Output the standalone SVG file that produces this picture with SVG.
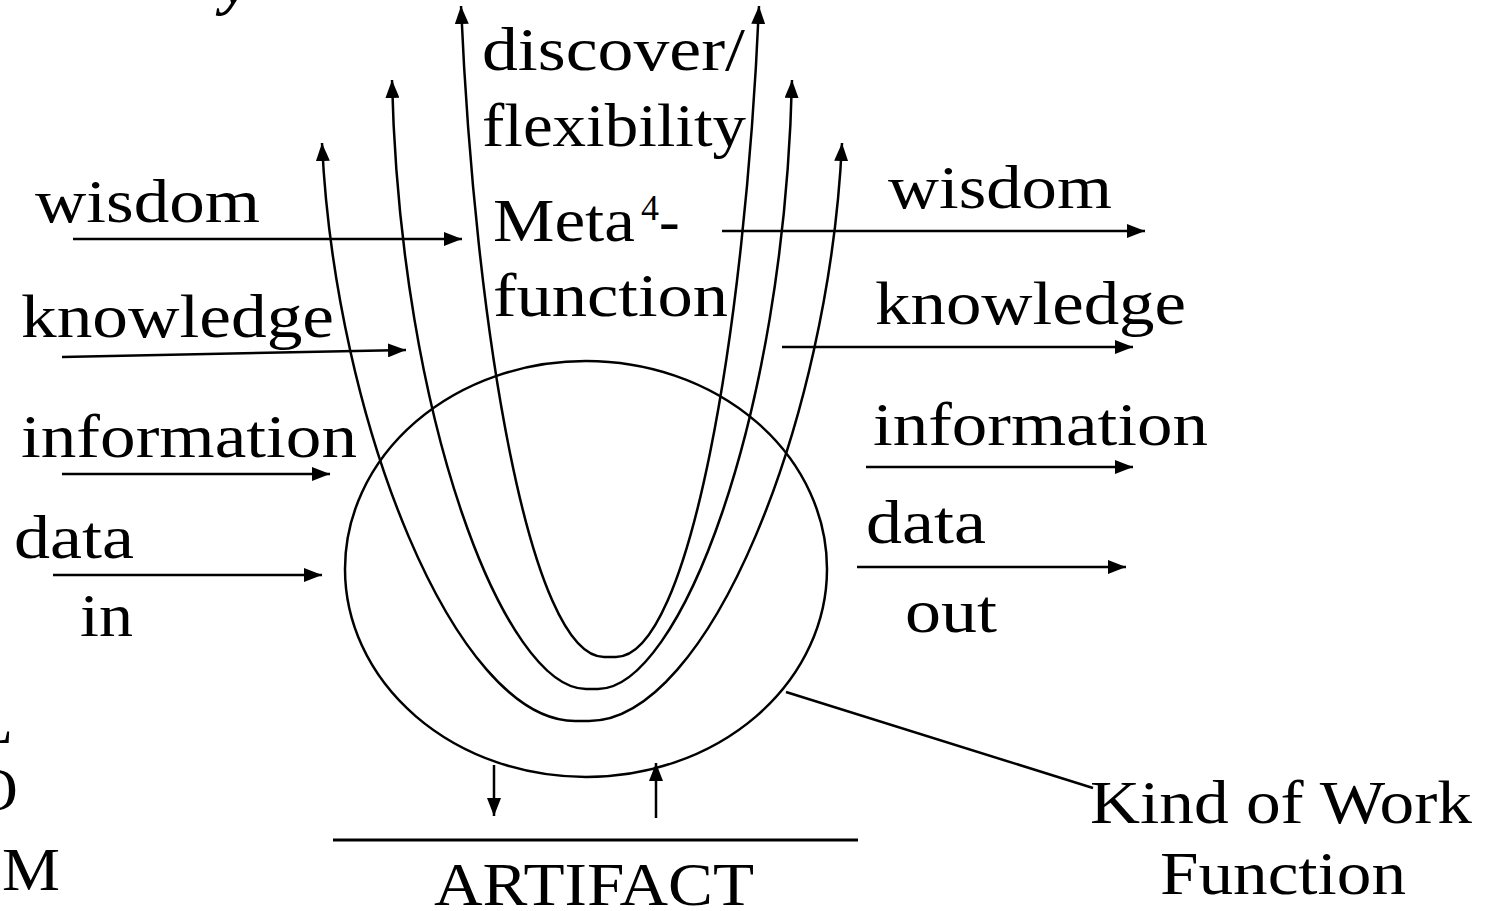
<svg xmlns="http://www.w3.org/2000/svg" width="1491" height="911" viewBox="0 0 1491 911">
<style>
  .t { font-family: "Liberation Serif", "Times New Roman", serif; font-size: 62px; fill: #000; }
  .ln { fill: none; stroke: #000; stroke-width: 2.5; }
  .ar { fill: none; stroke: #000; stroke-width: 2.5; marker-end: url(#ah); }
  .u { fill: none; stroke: #000; stroke-width: 2.5; marker-start: url(#ahs); marker-end: url(#ah); }
</style>
<defs>
  <marker id="ah" markerUnits="userSpaceOnUse" markerWidth="18" markerHeight="14" refX="18" refY="7" orient="auto">
    <path d="M0,0 L18,7 L0,14 z" fill="#000"/>
  </marker>
  <marker id="ahs" markerUnits="userSpaceOnUse" markerWidth="18" markerHeight="14" refX="18" refY="7" orient="auto-start-reverse">
    <path d="M0,0 L18,7 L0,14 z" fill="#000"/>
  </marker>
</defs>
<rect width="1491" height="911" fill="#fff"/>

<g id="edge-letters">
  <text class="t" x="222" y="3" font-style="italic" font-weight="bold" font-size="80">y</text>
  <text class="t" x="-25" y="743" font-size="64">L</text>
  <text class="t" x="-27" y="810" font-size="64">O</text>
  <text class="t" x="2" y="890" font-size="64" textLength="58" lengthAdjust="spacingAndGlyphs">M</text>
</g>

<g id="work-function">
  <ellipse cx="586" cy="569" rx="241" ry="208" class="ln"/>
</g>

<g id="meta-function">
  <text class="t" x="482" y="70" textLength="263" lengthAdjust="spacingAndGlyphs">discover/</text>
  <text class="t" x="482" y="146" textLength="264" lengthAdjust="spacingAndGlyphs">flexibility</text>
  <text class="t" y="241"><tspan x="493" textLength="142" lengthAdjust="spacingAndGlyphs">Meta</tspan><tspan x="641" y="220" font-size="36">4</tspan><tspan x="659" y="241">-</tspan></text>
  <text class="t" x="493" y="316" textLength="235" lengthAdjust="spacingAndGlyphs">function</text>
</g>

<g id="inputs">
  <text class="t" x="35" y="222" textLength="225" lengthAdjust="spacingAndGlyphs">wisdom</text>
  <text class="t" x="21" y="337" textLength="313" lengthAdjust="spacingAndGlyphs">knowledge</text>
  <text class="t" x="21" y="457" textLength="336" lengthAdjust="spacingAndGlyphs">information</text>
  <text class="t" x="14" y="558" textLength="120" lengthAdjust="spacingAndGlyphs">data</text>
  <text class="t" x="80" y="636" textLength="53" lengthAdjust="spacingAndGlyphs">in</text>
</g>

<g id="outputs">
  <text class="t" x="888" y="208" textLength="224" lengthAdjust="spacingAndGlyphs">wisdom</text>
  <text class="t" x="875" y="324" textLength="311" lengthAdjust="spacingAndGlyphs">knowledge</text>
  <text class="t" x="873" y="445" textLength="335" lengthAdjust="spacingAndGlyphs">information</text>
  <text class="t" x="866" y="543" textLength="120" lengthAdjust="spacingAndGlyphs">data</text>
  <text class="t" x="905" y="632" textLength="92" lengthAdjust="spacingAndGlyphs">out</text>
</g>

<g id="artifact">
  <line x1="333" y1="840" x2="858" y2="840" stroke="#000" stroke-width="3"/>
  <text class="t" x="434" y="905" textLength="320" lengthAdjust="spacingAndGlyphs">ARTIFACT</text>
</g>

<g id="kind-of-work-label">
  <text class="t" x="1090" y="823" textLength="382" lengthAdjust="spacingAndGlyphs">Kind of Work</text>
  <text class="t" x="1160" y="894" textLength="246" lengthAdjust="spacingAndGlyphs">Function</text>
</g>

<g id="connectors">
  <path class="u" d="M322,143 C335,420 455,721 575,721 L589,721 C709,721 829,420 842,143"/>
  <path class="u" d="M392,80 C400,420 505,689 586,689 L598,689 C679,689 784,420 792,80"/>
  <path class="u" d="M461,6 C475,330 530,657 604,657 L616,657 C690,657 745,330 759,6"/>
  <line class="ar" x1="73" y1="239" x2="462" y2="239"/>
  <line class="ar" x1="62" y1="357" x2="406" y2="350"/>
  <line class="ar" x1="62" y1="474" x2="330" y2="474"/>
  <line class="ar" x1="53" y1="575" x2="322" y2="575"/>
  <line class="ar" x1="722" y1="231" x2="1145" y2="231"/>
  <line class="ar" x1="782" y1="347" x2="1133" y2="347"/>
  <line class="ar" x1="866" y1="467" x2="1133" y2="467"/>
  <line class="ar" x1="857" y1="567" x2="1126" y2="567"/>
  <line class="ar" x1="494" y1="765" x2="494" y2="816"/>
  <line class="ar" x1="656" y1="818" x2="656" y2="763"/>
  <line class="ln" x1="786" y1="692" x2="1093" y2="788"/>
</g>
</svg>
